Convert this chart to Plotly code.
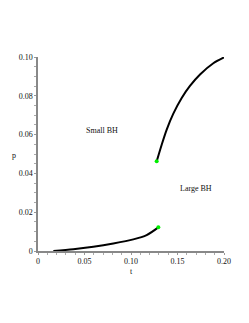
import plotly.graph_objects as go

# Lower (small BH) branch
t_small = [0.0165, 0.038, 0.0595, 0.081, 0.1025, 0.1168, 0.1294]
p_small = [0.0, 0.0009, 0.0022, 0.0039, 0.006, 0.0082, 0.0122]

# Upper (large BH) branch
t_large = [0.1276, 0.133, 0.1384, 0.1455, 0.1545, 0.1634, 0.1742, 0.1885, 0.2]
p_large = [0.0462, 0.0548, 0.0626, 0.0708, 0.0789, 0.0851, 0.0910, 0.0968, 0.0998]

# Transition points (green)
t_pts = [0.1294, 0.1276]
p_pts = [0.0122, 0.0462]

x_ticks = [0, 0.05, 0.10, 0.15, 0.20]
x_labels = ["0", "0.05", "0.10", "0.15", "0.20"]
y_ticks = [0, 0.02, 0.04, 0.06, 0.08, 0.10]
y_labels = ["0", "0.02", "0.04", "0.06", "0.08", "0.10"]

font = dict(family="Liberation Serif, Times New Roman, serif", size=8, color="#111")

fig = go.Figure()
fig.add_trace(go.Scatter(x=t_small, y=p_small, mode="lines",
                         line=dict(color="black", width=2, shape="spline", smoothing=0.8),
                         showlegend=False, hoverinfo="skip"))
fig.add_trace(go.Scatter(x=t_large, y=p_large, mode="lines",
                         line=dict(color="black", width=2, shape="spline", smoothing=0.8),
                         showlegend=False, hoverinfo="skip"))
fig.add_trace(go.Scatter(x=t_pts, y=p_pts, mode="markers",
                         marker=dict(color="#00ee00", size=4),
                         showlegend=False, hoverinfo="skip"))

fig.add_annotation(x=0.0688, y=0.062, text="Small BH", showarrow=False, font=font)
fig.add_annotation(x=0.170, y=0.0323, text="Large BH", showarrow=False, font=font)
fig.add_annotation(xref="paper", yref="paper", x=-0.13, y=0.49, text="p",
                   xanchor="center", yanchor="middle", showarrow=False, font=font)
fig.add_annotation(xref="paper", yref="paper", x=0.5, y=-0.105, text="t",
                   xanchor="center", yanchor="middle", showarrow=False, font=font)

axis_common = dict(showgrid=False, zeroline=False, showline=True,
                   linecolor="#888", linewidth=1.5, ticks="outside",
                   ticklen=2, tickcolor="#999", tickfont=font, automargin=False,
                   minor=dict(ticks="outside", ticklen=2, tickcolor="#aaa"))

fig.update_xaxes(range=[0, 0.2], tickvals=x_ticks, ticktext=x_labels, **axis_common)
fig.update_yaxes(range=[0, 0.1], tickvals=y_ticks, ticktext=y_labels, **axis_common)

fig.update_layout(width=241, height=315,
                  margin=dict(l=30, r=25, t=49, b=72),
                  paper_bgcolor="white", plot_bgcolor="white",
                  font=font)

fig.write_html("out.html")
